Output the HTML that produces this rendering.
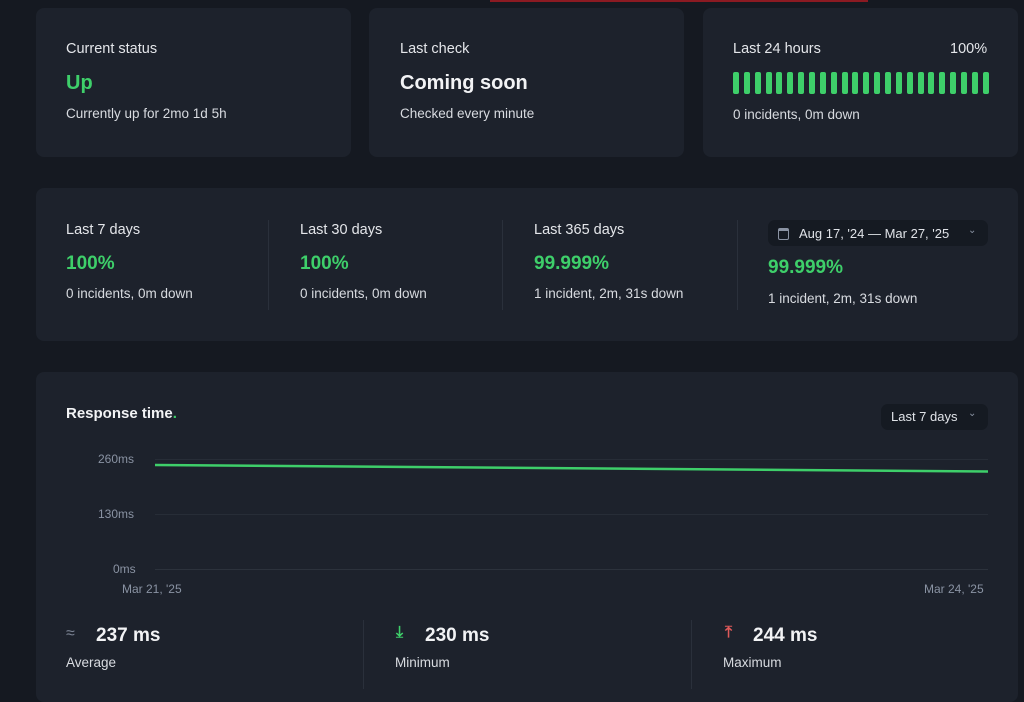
<!DOCTYPE html>
<html><head><style>
body{margin:0;width:1024px;height:689px;background:#151921;font-family:"Liberation Sans",sans-serif;color:#e6e8ec;position:relative;overflow:hidden}
.card{position:absolute;background:#1d222c;border-radius:8px}
.t{position:absolute;font-size:14.5px;color:#e4e6ea;white-space:nowrap}
.s{position:absolute;font-size:13.5px;color:#d8dbe0;white-space:nowrap}
.g{position:absolute;font-size:19px;font-weight:bold;color:#3ecf6a;white-space:nowrap}
.w{position:absolute;font-size:19px;font-weight:bold;color:#f2f3f5;white-space:nowrap}
.ax{position:absolute;font-size:12px;color:#8a93a3;white-space:nowrap}
.sep{position:absolute;width:1px;background:#2a303b}
.pill{position:absolute;background:#151a22;border-radius:7px;font-size:13px;color:#e0e3e8}
#bars i{display:block;width:6px;height:22px;background:#3ecf6a;border-radius:2px}
</style></head><body>
<div style="position:absolute;left:490px;top:0;width:378px;height:2px;background:#8b1a22"></div>

<div class="card" style="left:36px;top:8px;width:315px;height:149px"></div>
<div class="card" style="left:369px;top:8px;width:315px;height:149px"></div>
<div class="card" style="left:703px;top:8px;width:315px;height:149px"></div>
<div class="t" style="left:66px;top:41px">Current status</div>
<div class="g" style="left:66px;top:72px;font-size:20px">Up</div>
<div class="s" style="left:66px;top:106px">Currently up for 2mo 1d 5h</div>
<div class="t" style="left:400px;top:41px">Last check</div>
<div class="w" style="left:400px;top:72px;font-size:20px">Coming soon</div>
<div class="s" style="left:400px;top:106px">Checked every minute</div>
<div class="t" style="left:733px;top:41px">Last 24 hours</div>
<div class="t" style="left:950px;top:41px">100%</div>
<div id="bars" style="position:absolute;left:733px;top:72px;width:256px;height:22px;display:flex;justify-content:space-between">
<i></i><i></i><i></i><i></i><i></i><i></i><i></i><i></i><i></i><i></i><i></i><i></i><i></i><i></i><i></i><i></i><i></i><i></i><i></i><i></i><i></i><i></i><i></i><i></i>
</div>
<div class="s" style="left:733px;top:107px">0 incidents, 0m down</div>

<div class="card" style="left:36px;top:188px;width:982px;height:153px"></div>
<div class="sep" style="left:268px;top:220px;height:90px"></div>
<div class="sep" style="left:502px;top:220px;height:90px"></div>
<div class="sep" style="left:737px;top:220px;height:90px"></div>
<div class="t" style="left:66px;top:222px">Last 7 days</div>
<div class="g" style="left:66px;top:253px">100%</div>
<div class="s" style="left:66px;top:286px">0 incidents, 0m down</div>
<div class="t" style="left:300px;top:222px">Last 30 days</div>
<div class="g" style="left:300px;top:253px">100%</div>
<div class="s" style="left:300px;top:286px">0 incidents, 0m down</div>
<div class="t" style="left:534px;top:222px">Last 365 days</div>
<div class="g" style="left:534px;top:253px">99.999%</div>
<div class="s" style="left:534px;top:286px">1 incident, 2m, 31s down</div>
<div class="pill" style="left:768px;top:220px;width:220px;height:26px">
<span style="position:absolute;left:10px;top:8px;width:9px;height:8px;border:1.5px solid #8a93a3;border-top-width:3px;border-radius:2px"></span>
<span style="position:absolute;left:31px;top:6px">Aug 17, '24 — Mar 27, '25</span>
<span style="position:absolute;left:200px;top:5px;color:#8a93a3;font-size:10px">⌄</span></div>
<div class="g" style="left:768px;top:257px">99.999%</div>
<div class="s" style="left:768px;top:291px">1 incident, 2m, 31s down</div>

<div class="card" style="left:36px;top:372px;width:982px;height:330px"></div>
<div class="t" style="left:66px;top:405px;font-weight:bold;font-size:15px;color:#f2f3f5">Response time<span style="color:#3ecf6a">.</span></div>
<div class="pill" style="left:881px;top:404px;width:107px;height:26px"><span style="position:absolute;left:10px;top:5px">Last 7 days</span><span style="position:absolute;left:87px;top:4px;color:#8a93a3;font-size:10px">⌄</span></div>
<div class="ax" style="left:98px;top:452px">260ms</div>
<div class="ax" style="left:98px;top:507px">130ms</div>
<div class="ax" style="left:113px;top:562px">0ms</div>
<div style="position:absolute;left:155px;top:459px;width:833px;height:1px;background:#272d37"></div>
<div style="position:absolute;left:155px;top:514px;width:833px;height:1px;background:#272d37"></div>
<div style="position:absolute;left:155px;top:569px;width:833px;height:1px;background:#2c323c"></div>
<svg style="position:absolute;left:0;top:0" width="1024" height="689"><line x1="155" y1="465" x2="988" y2="471.5" stroke="#3ecf6a" stroke-width="2.5"/></svg>
<div class="ax" style="left:122px;top:582px">Mar 21, '25</div>
<div class="ax" style="left:924px;top:582px">Mar 24, '25</div>
<div class="sep" style="left:363px;top:620px;height:69px"></div>
<div class="sep" style="left:691px;top:620px;height:69px"></div>
<div style="position:absolute;left:66px;top:625px;color:#7a8292;font-size:16px">≈</div>
<div class="w" style="left:96px;top:625px">237 ms</div>
<div class="s" style="left:66px;top:655px">Average</div>
<div style="position:absolute;left:396px;top:624px;color:#3ecf6a;font-size:16px;font-weight:bold">⤓</div>
<div class="w" style="left:425px;top:625px">230 ms</div>
<div class="s" style="left:395px;top:655px">Minimum</div>
<div style="position:absolute;left:725px;top:624px;color:#e05a5a;font-size:16px;font-weight:bold">⤒</div>
<div class="w" style="left:753px;top:625px">244 ms</div>
<div class="s" style="left:723px;top:655px">Maximum</div>
</body></html>
